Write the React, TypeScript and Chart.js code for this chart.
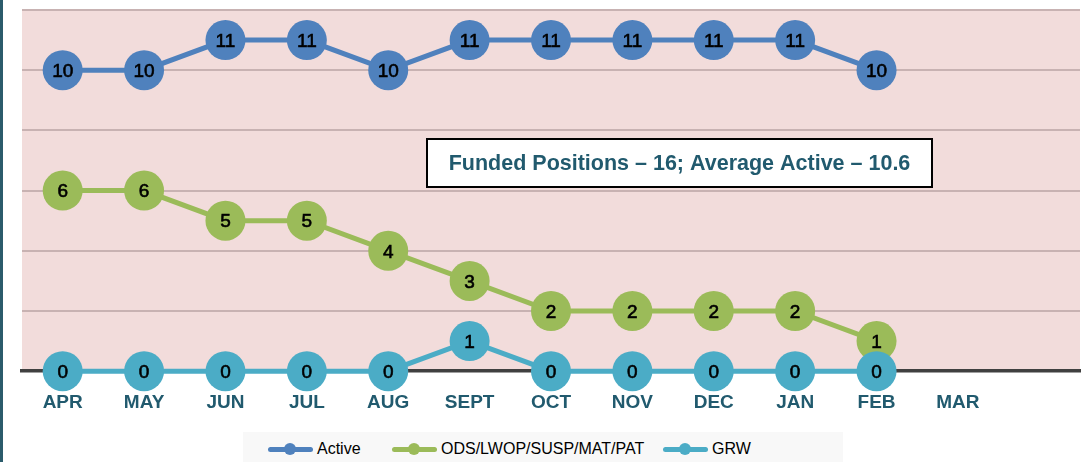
import React, { useEffect, useRef } from "react";
import { Chart, registerables } from "chart.js";

Chart.register(...registerables);

const months = ["APR", "MAY", "JUN", "JUL", "AUG", "SEPT", "OCT", "NOV", "DEC", "JAN", "FEB", "MAR", ""];
const activeValues = [10, 10, 11, 11, 10, 11, 11, 11, 11, 11, 10, null, null];
const odsValues = [6, 6, 5, 5, 4, 3, 2, 2, 2, 2, 1, null, null];
const grwValues = [0, 0, 0, 0, 0, 1, 0, 0, 0, 0, 0, null, null];
const seriesNames = ["Active", "ODS/LWOP/SUSP/MAT/PAT", "GRW"];
const seriesColors = ["#4F81BD", "#9BBB59", "#4BACC6"];
const annotationText = "Funded Positions – 16; Average Active – 10.6";

const FONT = "'Liberation Sans', Arial, sans-serif";
const TEXT_TEAL = "#215A6E";

const plotBg = {
  id: "plotBg",
  beforeDraw(chart: any) {
    const { ctx, chartArea: a } = chart;
    ctx.save();
    ctx.fillStyle = "#F2DCDB";
    ctx.fillRect(a.left, a.top, a.right - a.left, a.bottom - a.top);
    ctx.restore();
  },
};

const pointLabels = {
  id: "pointLabels",
  afterDatasetDraw(chart: any, args: any) {
    const { ctx } = chart;
    const ds = chart.data.datasets[args.index];
    ctx.save();
    ctx.font = `19px ${FONT}`;
    ctx.fillStyle = "#000000";
    ctx.strokeStyle = "#000000";
    ctx.lineWidth = 0.6;
    ctx.textAlign = "center";
    ctx.textBaseline = "middle";
    args.meta.data.forEach((el: any, i: number) => {
      const v = ds.data[i];
      if (v === null || v === undefined) return;
      ctx.fillText(String(v), el.x, el.y + 1.5);
      ctx.strokeText(String(v), el.x, el.y + 1.5);
    });
    ctx.restore();
  },
};

const annotation = {
  id: "annotation",
  afterDraw(chart: any) {
    const { ctx, chartArea: a } = chart;
    const x = a.left + 405;
    const y = a.top + 129;
    const w = 505;
    const h = 48;
    ctx.save();
    ctx.fillStyle = "#FFFFFF";
    ctx.fillRect(x, y, w, h);
    ctx.strokeStyle = "#000000";
    ctx.lineWidth = 2;
    ctx.strokeRect(x, y, w, h);
    ctx.font = `bold 21.5px ${FONT}`;
    ctx.fillStyle = TEXT_TEAL;
    ctx.textAlign = "center";
    ctx.textBaseline = "middle";
    ctx.fillText(annotationText, x + w / 2, y + h / 2 + 1);
    ctx.restore();
  },
};

function LegendItem({ left, label, color }: { left: number; label: string; color: string }) {
  return (
    <div style={{ position: "absolute", left, top: 0, height: 34, display: "flex", alignItems: "center" }}>
      <div style={{ position: "relative", width: 45, height: 12, marginRight: 4 }}>
        <div style={{ position: "absolute", left: 0, top: 4, width: 45, height: 5, borderRadius: 3, background: color }} />
        <div style={{ position: "absolute", left: 16, top: 0, width: 12, height: 12, borderRadius: 6, background: color }} />
      </div>
      <span style={{ font: `16px ${FONT}`, color: "#000000", whiteSpace: "nowrap" }}>{label}</span>
    </div>
  );
}

const legendLefts = [25, 149, 420];

export default function App() {
  const ref = useRef<HTMLCanvasElement>(null);

  useEffect(() => {
    document.body.style.margin = "0";
    const values = [activeValues, odsValues, grwValues];
    const chart = new Chart(ref.current!, {
      type: "line",
      data: {
        labels: months,
        datasets: values.map((data, i) => ({
          label: seriesNames[i],
          data,
          borderColor: seriesColors[i],
          backgroundColor: seriesColors[i],
          pointBackgroundColor: seriesColors[i],
          pointBorderColor: seriesColors[i],
          borderWidth: 5,
          pointRadius: 20,
          pointHoverRadius: 20,
          pointBorderWidth: 0,
          tension: 0,
          order: 3 - i,
          clip: false as any,
        })),
      },
      options: {
        animation: false,
        responsive: false,
        maintainAspectRatio: false,
        layout: { padding: { left: 0, right: 0, top: 0, bottom: 28 } },
        scales: {
          x: {
            offset: true,
            grid: { display: false, drawTicks: false },
            border: { display: true, color: "#404040", width: 3.5 },
            ticks: {
              color: TEXT_TEAL,
              font: { family: FONT, size: 19, weight: "bold" },
              padding: 20,
              autoSkip: false,
              maxRotation: 0,
            },
          },
          y: {
            min: 0,
            max: 12,
            ticks: { display: false, stepSize: 2 },
            grid: { color: "#C8B2B2", lineWidth: 2, drawTicks: false },
            border: { display: false },
          },
        },
        plugins: {
          tooltip: { enabled: false },
          legend: { display: false },
        },
      },
      plugins: [plotBg, pointLabels, annotation],
    });
    return () => chart.destroy();
  }, []);

  return (
    <div style={{ position: "relative", width: 1087, height: 462, background: "#FFFFFF", overflow: "hidden" }}>
      <canvas ref={ref} width={1098} height={472} style={{ position: "absolute", left: 2, top: -10, width: 1098, height: 472 }} />
      <div style={{ position: "absolute", left: 0, top: 0, width: 3, height: 462, background: "#2B5B6B" }} />
      <div style={{ position: "absolute", left: 243, top: 432, width: 600, height: 34, background: "#F8F8F8" }}>
        {seriesNames.map((name, i) => (
          <LegendItem key={name} left={legendLefts[i]} label={name} color={seriesColors[i]} />
        ))}
      </div>
    </div>
  );
}
